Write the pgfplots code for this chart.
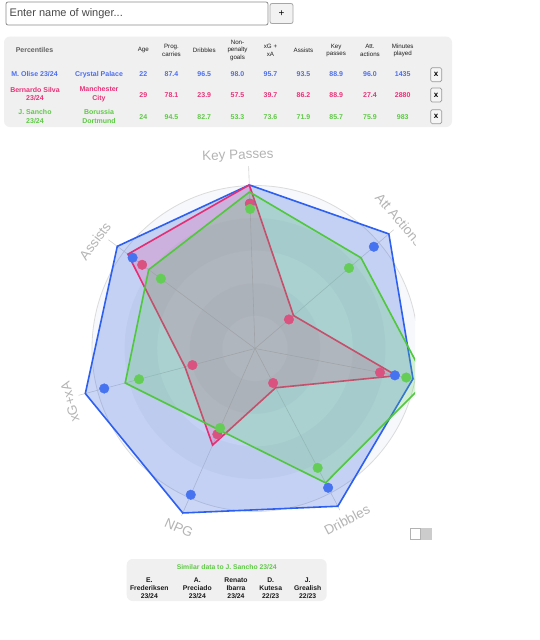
\documentclass[border=0pt]{standalone}
\usepackage{fontspec}
\setmainfont{Liberation Sans}
\usepackage{pgfplots}
\pgfplotsset{compat=1.18}
\usepgfplotslibrary{polar}
\definecolor{bluL}{RGB}{45,95,240}
\definecolor{bluF}{RGB}{50,95,225}
\definecolor{bluD}{RGB}{70,115,240}
\definecolor{pnkL}{RGB}{230,45,115}
\definecolor{pnkF}{RGB}{235,60,140}
\definecolor{pnkD}{RGB}{218,82,128}
\definecolor{grnL}{RGB}{80,200,60}
\definecolor{grnF}{RGB}{80,205,80}
\definecolor{grnD}{RGB}{100,205,85}
\definecolor{txB}{RGB}{75,110,240}
\definecolor{txP}{RGB}{232,50,120}
\definecolor{txG}{RGB}{95,200,70}
\definecolor{panel}{RGB}{240,240,240}
\definecolor{lbl}{RGB}{180,180,180}
\definecolor{ringA}{RGB}{246,248,251}
\definecolor{ringB}{RGB}{236,240,245}
\newcommand{\fsl}[2]{\fontsize{#1}{#2}\selectfont}
\begin{document}
\begin{tikzpicture}
\useasboundingbox (0pt,0pt) rectangle (539pt,-640pt);
\fill[white] (0pt,0pt) rectangle (539pt,-640pt);
\begin{scope}[x=1pt,y=-1pt]
 % search box
 \draw[black!45, rounded corners=2pt, fill=white, line width=0.8pt] (6,2) rectangle (268,25);
 \node[anchor=west, inner sep=0, text=black!72, font=\fsl{11}{13}] at (9.5,13.8) {Enter name of winger...};
 \draw[black!35, rounded corners=2pt, fill=black!5, line width=0.8pt] (270,3.5) rectangle (293,23.5);
 \node[inner sep=0, font=\fsl{10}{12}] at (281.5,13.5) {+};
 % table panel
 \fill[panel, rounded corners=6pt] (4,36.5) rectangle (452,127);
 \node[inner sep=0, text=black!62, font=\bfseries\fsl{7}{8}] at (34.5,50) {Percentiles};
 \tikzset{hd/.style={inner sep=0, align=center, text=black!88, font=\fsl{6.2}{7.6}}}
 \node[hd] at (143.3,50) {Age};
 \node[hd] at (171.5,50.5) {Prog.\\carries};
 \node[hd] at (204.3,50) {Dribbles};
 \node[hd] at (237.5,50.3) {Non-\\penalty\\goals};
 \node[hd] at (270.5,50.5) {xG +\\xA};
 \node[hd] at (303.5,50) {Assists};
 \node[hd] at (336.2,50.5) {Key\\passes};
 \node[hd] at (370,50.5) {Att.\\actions};
 \node[hd] at (402.7,50.5) {Minutes\\played};
 \tikzset{rw/.style={inner sep=0, align=center, font=\bfseries\fsl{7}{8.3}}}
 % Olise
 \node[rw, text=txB] at (34.5,74.3) {M. Olise 23/24};
 \node[rw, text=txB] at (99,74.3) {Crystal Palace};
 \foreach \x/\v in {143.3/22, 171.5/87.4, 204.3/96.5, 237.5/98.0, 270.5/95.7, 303.5/93.5, 336.2/88.9, 370/96.0, 402.7/1435}
   \node[rw, text=txB] at (\x,74.3) {\v};
 % Silva
 \node[rw, text=txP] at (35,94.2) {Bernardo Silva\\23/24};
 \node[rw, text=txP] at (99,94.2) {Manchester\\City};
 \foreach \x/\v in {143.3/29, 171.5/78.1, 204.3/23.9, 237.5/57.5, 270.5/39.7, 303.5/86.2, 336.2/88.9, 370/27.4, 402.7/2880}
   \node[rw, text=txP] at (\x,94.8) {\v};
 % Sancho
 \node[rw, text=txG] at (35,116.5) {J. Sancho\\23/24};
 \node[rw, text=txG] at (99,116.5) {Borussia\\Dortmund};
 \foreach \x/\v in {143.3/24, 171.5/94.5, 204.3/82.7, 237.5/53.3, 270.5/73.6, 303.5/71.9, 336.2/85.7, 370/75.9, 402.7/983}
   \node[rw, text=txG] at (\x,116.7) {\v};
 % x buttons
 \foreach \yy in {74.7, 95, 116.7} {
   \draw[black!40, fill=black!4, rounded corners=1.5pt, line width=0.7pt] (430.7,\yy-7) rectangle (441.7,\yy+7);
   \node[inner sep=0, font=\bfseries\fsl{8}{9}] at (436.2,\yy) {x};
 }
 % similar panel
 \fill[panel, rounded corners=6pt] (126.7,559) rectangle (326.7,601);
 \node[inner sep=0, text=txG, font=\bfseries\fsl{6.8}{8}] at (226.7,567.3) {Similar data to J. Sancho 23/24};
 \tikzset{sm/.style={inner sep=0, align=center, text=black!90, font=\bfseries\fsl{6.8}{8.2}}}
 \node[sm] at (149.3,588.3) {E.\\Frederiksen\\23/24};
 \node[sm] at (197.3,588.3) {A.\\Preciado\\23/24};
 \node[sm] at (236,588.3) {Renato\\Ibarra\\23/24};
 \node[sm] at (270.7,588.3) {D.\\Kutesa\\22/23};
 \node[sm] at (307.7,588.3) {J.\\Grealish\\22/23};
\end{scope}

% radar
\begin{scope}
\clip (0pt,-130pt) rectangle (415pt,-556pt);
\begin{polaraxis}[at={(255pt,-348.5pt)}, anchor=center,
  width=326pt, height=326pt, scale only axis,
  xmin=0, xmax=360, ymin=0, ymax=100,
  hide axis, clip=false]
 \fill[ringA] (axis cs:0,0) circle[radius=163pt];
 \fill[ringB] (axis cs:0,0) circle[radius=130.4pt];
 \fill[ringA] (axis cs:0,0) circle[radius=97.8pt];
 \fill[ringB] (axis cs:0,0) circle[radius=65.2pt];
 \fill[ringA] (axis cs:0,0) circle[radius=32.6pt];
 \draw[black!14, line width=0.8pt] (axis cs:0,0) circle[radius=163pt];
 \draw[black!18, line width=0.6pt] (axis cs:0,0) -- (axis cs:92,112);
 \draw[black!18, line width=0.6pt] (axis cs:0,0) -- (axis cs:40.57,112);
 \draw[black!18, line width=0.6pt] (axis cs:0,0) -- (axis cs:349.14,112);
 \draw[black!18, line width=0.6pt] (axis cs:0,0) -- (axis cs:297.71,112);
 \draw[black!18, line width=0.6pt] (axis cs:0,0) -- (axis cs:246.29,112);
 \draw[black!18, line width=0.6pt] (axis cs:0,0) -- (axis cs:194.86,112);
 \draw[black!18, line width=0.6pt] (axis cs:0,0) -- (axis cs:143.43,112);
 % M. Olise
 \addplot[draw=bluL, line width=1.6pt, fill=bluF, fill opacity=0.25, line join=miter]
   coordinates {(92,100.4) (40.57,108.1) (349.14,98.7) (297.71,109.3) (246.29,110.2) (194.86,107.7) (143.43,105.2) (92,100.4)};
 \addplot[only marks, mark=*, mark size=4.8pt, color=bluD, mark options={solid, fill=bluD, draw=bluD, line width=0.4pt}]
   coordinates {(92,88.9) (40.57,96.0) (349.14,87.4) (297.71,96.5) (246.29,98.0) (194.86,95.7) (143.43,93.5)};
 % Bernardo Silva
 \addplot[draw=pnkL, line width=1.6pt, fill=pnkF, fill opacity=0.22, line join=miter]
   coordinates {(92,100.4) (40.57,31.1) (349.14,88.5) (297.71,27.2) (246.29,64.7) (194.86,44.4) (143.43,97.1) (92,100.4)};
 \addplot[only marks, mark=*, mark size=4.8pt, color=pnkD, mark options={solid, fill=pnkD, draw=pnkD, line width=0.4pt}]
   coordinates {(92,88.9) (40.57,27.4) (349.14,78.1) (297.71,23.9) (246.29,57.5) (194.86,39.7) (143.43,86.2)};
 % J. Sancho
 \addplot[draw=grnL, line width=1.6pt, fill=grnF, fill opacity=0.22, line join=miter]
   coordinates {(92,96.1) (40.57,85.6) (349.14,107.1) (297.71,93.1) (246.29,54.6) (194.86,82.4) (143.43,81.2) (92,96.1)};
 \addplot[only marks, mark=*, mark size=4.8pt, color=grnD, mark options={solid, fill=grnD, draw=grnD, line width=0.4pt}]
   coordinates {(92,85.7) (40.57,75.9) (349.14,94.5) (297.71,82.7) (246.29,53.3) (194.86,73.6) (143.43,71.9)};
\end{polaraxis}
\begin{scope}[x=1pt,y=-1pt]
 \tikzset{al/.style={inner sep=0, text=lbl, font=\fsl{13.5}{15}}}
 \node[al, rotate=2] at (238,156) {Key Passes};
 \node[al, rotate=-49.4, anchor=west] at (378,195) {Att Actions};
 \node[al, rotate=27.7] at (347,520) {Dribbles};
 \node[al, rotate=-23.7] at (179,528) {NPG};
 \node[al, rotate=104.9] at (70,402) {xG+xA};
 \node[al, rotate=53.4] at (95,241) {Assists};
\end{scope}
\end{scope}

% toggle
\begin{scope}[x=1pt,y=-1pt]
 \fill[black!20] (420.5,528.3) rectangle (432,540);
 \draw[black!30, fill=white, line width=0.7pt] (410,528.3) rectangle (420,539.6);
\end{scope}
\end{tikzpicture}
\end{document}
